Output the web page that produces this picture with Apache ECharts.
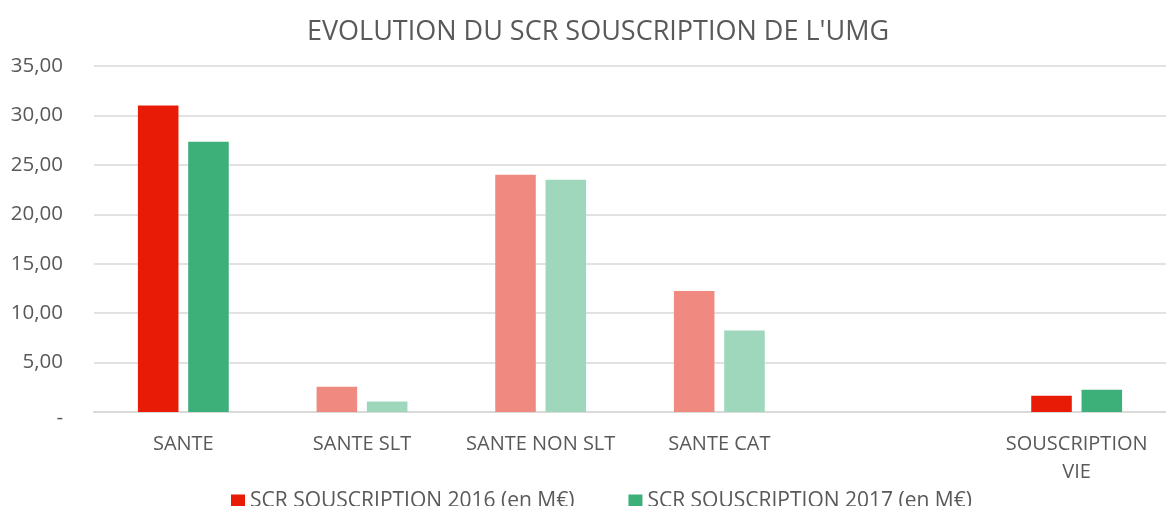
<!DOCTYPE html>
<html>
<head>
<meta charset="utf-8">
<script src="https://cdn.jsdelivr.net/npm/echarts@6/dist/echarts.min.js"></script>
<style>
  html, body { margin: 0; padding: 0; background: #fff; }
  #chart { width: 1166px; height: 506px; }
</style>
</head>
<body>
<div id="chart"></div>
<script>
// données
var categories = ["SANTE", "SANTE SLT", "SANTE NON SLT", "SANTE CAT", "", "SOUSCRIPTION\nVIE"];
var scr2016 = [31.0, 2.55, 24.0, 12.25, null, 1.65];
var scr2017 = [27.35, 1.05, 23.5, 8.25, null, 2.25];
var seriesNames = ["SCR SOUSCRIPTION 2016 (en M€)", "SCR SOUSCRIPTION 2017 (en M€)"];
var yTicks = [0, 5, 10, 15, 20, 25, 30, 35];

// catégories mises en avant (couleur pleine), les autres en clair
var strong = [true, false, false, false, false, true];
var red = "#E81B06", redLight = "#F08A80";
var green = "#3DAF78", greenLight = "#9ED7BB";

function toItems(vals, c1, c2) {
  return vals.map(function (v, i) {
    return { value: v, itemStyle: { color: strong[i] ? c1 : c2 } };
  });
}

var font = "Open Sans";
var chart = echarts.init(document.getElementById("chart"));
chart.setOption({
  animation: false,
  textStyle: { fontFamily: font },
  title: {
    text: "EVOLUTION DU SCR SOUSCRIPTION DE L'UMG",
    left: 593,
    top: 14,
    textAlign: "center",
    textStyle: { fontFamily: font, fontSize: 27, fontWeight: "normal", color: "#595959" }
  },
  legend: {
    left: 226,
    top: 486,
    itemWidth: 14,
    itemHeight: 14,
    itemGap: 54,
    icon: "rect",
    textStyle: { fontFamily: font, fontSize: 21, color: "#595959" },
    data: [
      { name: seriesNames[0], itemStyle: { color: red } },
      { name: seriesNames[1], itemStyle: { color: green } }
    ]
  },
  grid: { left: 94, top: 66, width: 1083, bottom: 94 },
  xAxis: {
    type: "category",
    data: categories,
    axisLine: { lineStyle: { color: "#d9d9d9", width: 2 } },
    axisTick: { show: false },
    axisLabel: { color: "#595959", fontSize: 20, margin: 18, lineHeight: 28, interval: 0 }
  },
  yAxis: {
    type: "value",
    min: yTicks[0],
    max: yTicks[yTicks.length - 1],
    interval: 5,
    axisLine: { show: false },
    axisTick: { show: false },
    splitLine: { lineStyle: { color: "#d9d9d9", width: 1.5 } },
    axisLabel: {
      color: "#595959",
      fontSize: 20.5,
      margin: 31,
      formatter: function (v) {
        return v === 0 ? "{z|-}" : v.toFixed(2).replace(".", ",");
      },
      rich: { z: { fontSize: 20.5, color: "#595959", padding: [12, 0, 0, 0] } }
    }
  },
  series: [
    {
      name: seriesNames[0],
      type: "bar",
      barWidth: "22.7%",
      barGap: "24%",
      itemStyle: { color: red },
      data: toItems(scr2016, red, redLight)
    },
    {
      name: seriesNames[1],
      type: "bar",
      barWidth: "22.7%",
      itemStyle: { color: green },
      data: toItems(scr2017, green, greenLight)
    }
  ]
});
</script>
</body>
</html>
